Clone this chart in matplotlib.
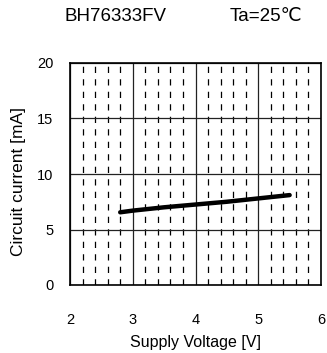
import matplotlib
matplotlib.use('Agg')
from matplotlib import pyplot as plt
from matplotlib.ticker import MultipleLocator

# supply voltage [V] vs circuit current [mA]
volts = [2.8, 3.0, 3.5, 4.0, 4.5, 5.0, 5.5]
current = [6.55, 6.7, 7.0, 7.25, 7.5, 7.8, 8.1]

x_ticks = [2, 3, 4, 5, 6]
y_ticks = [0, 5, 10, 15, 20]

plt.rcParams['font.family'] = ['Liberation Sans', 'DejaVu Sans']

fig = plt.figure(figsize=(3.27, 3.53), dpi=100)
ax = fig.add_axes([70 / 327, 68 / 353, 251 / 327, 222 / 353])

ax.plot(volts, current, color='k', lw=3.2, solid_capstyle='round', zorder=3)

ax.set_xlim(2, 6), ax.set_ylim(0, 20)
ax.set_xticks(x_ticks), ax.set_yticks(y_ticks)
ax.xaxis.set_minor_locator(MultipleLocator(0.2))
ax.tick_params(which='both', length=0, labelsize=10.5)
ax.tick_params(axis='x', pad=20)
ax.tick_params(axis='y', pad=12)

ax.grid(which='major', color='#222222', lw=0.9)
ax.grid(which='minor', axis='x', color='k', lw=0.9, linestyle=(0, (5, 5)))
for s in ax.spines.values():
    s.set_linewidth(1.2)

ax.set_xlabel('Supply Voltage [V]', fontsize=11.5)
ax.set_ylabel('Circuit current [mA]', fontsize=12.5)
ax.xaxis.set_label_coords(0.5, -0.225)
ax.yaxis.set_label_coords(-0.175, 0.464)

fig.text(116 / 327, 1 - 16.5 / 353, 'BH76333FV', fontsize=13.5, ha='center', va='center')
fig.text(266 / 327, 1 - 16.5 / 353, 'Ta=25\u2103', fontsize=13.5, ha='center', va='center')

fig.savefig('out.png', dpi=100)
